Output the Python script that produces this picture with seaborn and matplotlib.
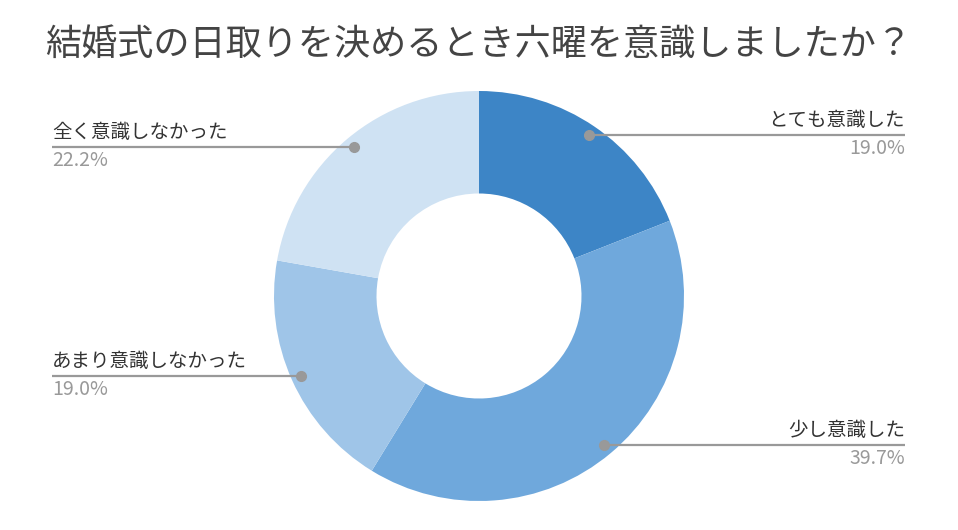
import numpy as np
import matplotlib
matplotlib.use("Agg")
import matplotlib.pyplot as plt
import seaborn as sns

# data
labels = ["とても意識した", "少し意識した", "あまり意識しなかった", "全く意識しなかった"]
values = [19.0, 39.7, 19.0, 22.2]
pct_text = ["19.0%", "39.7%", "19.0%", "22.2%"]
colors = ["#3d85c6", "#6fa8dc", "#9fc5e8", "#cfe2f3"]
title = "結婚式の日取りを決めるとき六曜を意識しましたか？"

sns.set_theme(style="white")
plt.rcParams["font.family"] = ["Noto Sans CJK JP", "DejaVu Sans"]

W, H = 958, 530
fig = plt.figure(figsize=(W / 100, H / 100), dpi=100)
ax = fig.add_axes([0, 0, 1, 1])
ax.set_xlim(0, W)
ax.set_ylim(0, H)
ax.set_aspect("equal")
ax.axis("off")

cx, cy, R = 479, H - 296, 205
wedges, _ = ax.pie(values, colors=colors, startangle=90, counterclock=False,
                   center=(cx, cy), radius=R,
                   wedgeprops=dict(width=R * 0.5, edgecolor="white", linewidth=0))
ax.set_xlim(0, W)
ax.set_ylim(0, H)

line_col = "#999999"
for w, lab, pct in zip(wedges, labels, pct_text):
    mid = np.deg2rad((w.theta1 + w.theta2) / 2)
    px = cx + 0.95 * R * np.cos(mid)
    py = cy + 0.95 * R * np.sin(mid)
    if np.cos(mid) >= 0:
        xend, ha = 905, "right"
    else:
        xend, ha = 52, "left"
    ax.plot([px, xend], [py, py], color=line_col, lw=1.6, solid_capstyle="butt")
    ax.plot(px, py, "o", color=line_col, ms=7)
    ax.text(xend, py + 4, lab, ha=ha, va="bottom", fontsize=14, color="#333333")
    ax.text(xend, py - 3, pct, ha=ha, va="top", fontsize=14, color="#999999")

fig.text(0.5, 1 - 45 / H, title, ha="center", va="center", fontsize=26.0, color="#444444")

fig.savefig("out.png", dpi=100)
